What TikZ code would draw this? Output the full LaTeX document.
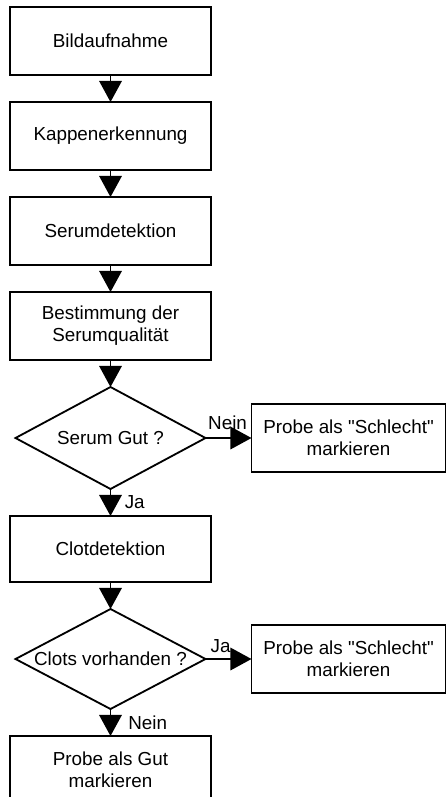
\documentclass[tikz,border=0pt]{standalone}
\usepackage{fontspec}
\setmainfont{Liberation Sans}[Ligatures=TeXOff]
\usetikzlibrary{positioning,shapes.geometric,arrows.meta}

\begin{document}
\begin{tikzpicture}[
    node distance=0.675cm,
    every node/.style={font=\fontsize{13.4}{15.5}\selectfont},
    stepbox/.style={rectangle, draw, line width=1.3pt, outer sep=0pt, minimum width=5.025cm, minimum height=1.7cm, align=center},
    sidebox/.style={stepbox, minimum width=4.85cm},
    query/.style={diamond, draw, line width=1.3pt, outer sep=0pt, inner sep=0pt, aspect=1.9, minimum width=4.75cm},
    flow/.style={line width=1.3pt, -{Triangle[width=16pt,length=15pt]}},
    tag/.style={inner sep=1pt}
]
\useasboundingbox (0,0) rectangle (11.175,-19.925);

\node[stepbox] (bild) at (2.7625,-1.025) {Bildaufnahme};
\node[stepbox, below=of bild] (kappe) {Kappenerkennung};
\node[stepbox, below=of kappe] (serum) {Serumdetektion};
\node[stepbox, below=of serum] (quali) {Bestimmung der\\Serumqualität};
\node[query, minimum height=2.55cm, below=of quali] (gut) {Serum Gut ?};
\node[sidebox, right=1.15cm of gut] (schlecht1) {Probe als "Schlecht"\\markieren};
\node[stepbox, minimum height=1.65cm, below=of gut] (clot) {Clotdetektion};
\node[query, minimum height=2.5cm, below=of clot] (clots) {Clots vorhanden ?};
\node[sidebox, right=1.15cm of clots] (schlecht2) {Probe als "Schlecht"\\markieren};
\node[stepbox, below=of clots] (probegut) {Probe als Gut\\markieren};

\draw[flow] (bild) -- (kappe);
\draw[flow] (kappe) -- (serum);
\draw[flow] (serum) -- (quali);
\draw[flow] (quali) -- (gut);
\draw[flow] (gut) -- node[tag, above, pos=0.48, yshift=4.5pt] {Nein} (schlecht1);
\draw[flow] (gut) -- node[tag, right, xshift=8.5pt] {Ja} (clot);
\draw[flow] (clot) -- (clots);
\draw[flow] (clots) -- node[tag, above, pos=0.33, yshift=3pt] {Ja} (schlecht2);
\draw[flow] (clots) -- node[tag, right, xshift=11pt] {Nein} (probegut);

\end{tikzpicture}
\end{document}
